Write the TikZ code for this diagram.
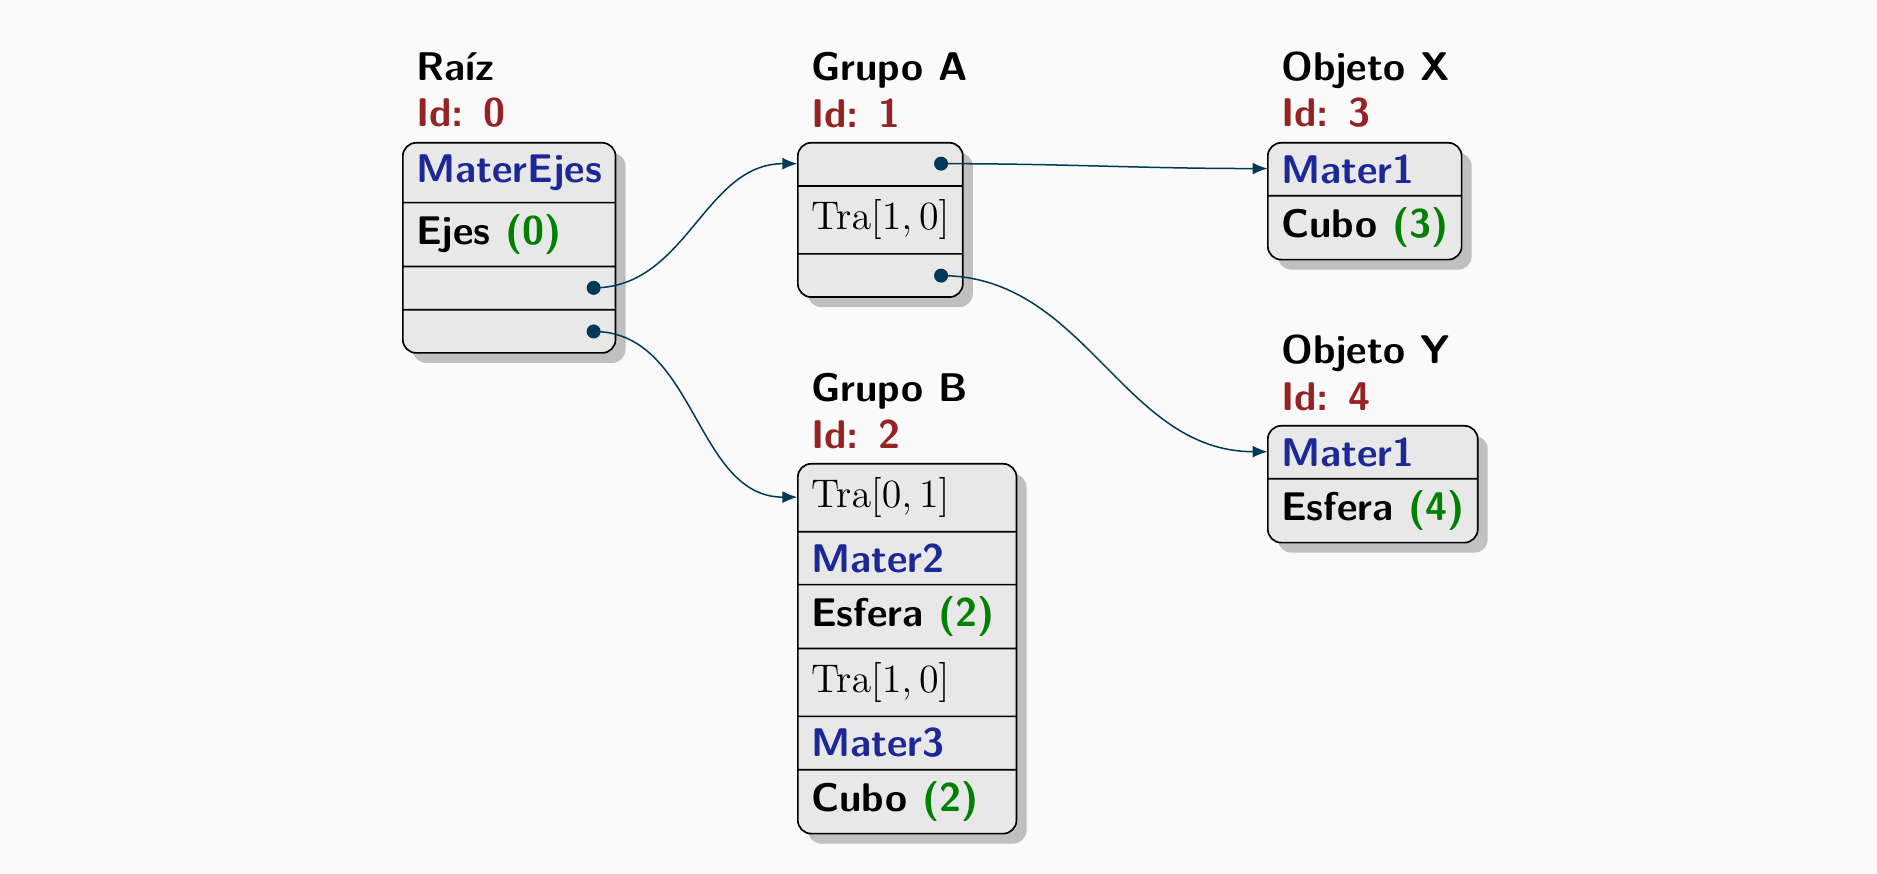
\documentclass[tikz,border=0pt]{standalone}
\usetikzlibrary{shapes.multipart,shadows,calc,arrows.meta}
\newcommand{\sfdoce}{\fontsize{12}{14}\sffamily\bfseries}
\newcommand{\tra}[1]{\rule[-3.6pt]{0pt}{13.2pt}$\mathrm{Tra}[#1]$}
\definecolor{fondo}{RGB}{250,250,250}
\definecolor{celda}{RGB}{232,232,232}
\definecolor{sombra}{RGB}{192,192,192}
\definecolor{azul}{RGB}{28,40,150}
\definecolor{rojo}{RGB}{150,35,35}
\definecolor{verde}{RGB}{0,128,0}
\definecolor{punto}{RGB}{0,58,87}
\tikzset{
  escena/.style={rectangle split, rectangle split parts=#1, rectangle split part align=left,
    rectangle split empty part height=5.8pt,
    draw=black, line width=0.5pt, rounded corners, fill=celda, anchor=north west,
    inner xsep=4pt, inner ysep=3.33pt, font=\sfdoce,
    drop shadow={shadow xshift=3pt, shadow yshift=-3pt, fill=sombra, opacity=1}},
  titulo/.style={anchor=south west, align=left, inner sep=4pt, font=\sfdoce},
  enlace/.style={-{Latex[length=4.5pt,width=3.6pt]}, draw=punto, line width=0.45pt}
}

\begin{document}
\begin{tikzpicture}[scale=1.0544]
    \fill[fondo] (0,0) rectangle (18.77,8.74);
    \useasboundingbox (0,0) rectangle (18.77,8.74);
    % nodos de la escena
    \node[escena=4] (raiz) at (4.02,7.32) {\textcolor{azul}{MaterEjes}\nodepart{two}Ejes \textcolor{verde}{(0)}\nodepart{three}\nodepart{four}};
    \node[escena=3] (grupoA) at (7.97,7.32) {\nodepart{two}\tra{1,0}\nodepart{three}};
    \node[escena=6, minimum width=65.6pt] (grupoB) at (7.97,4.11) {\tra{0,1}\nodepart{two}\textcolor{azul}{Mater2}\nodepart{three}Esfera \textcolor{verde}{(2)}\nodepart{four}\tra{1,0}\nodepart{five}\textcolor{azul}{Mater3}\nodepart{six}Cubo \textcolor{verde}{(2)}};
    \node[escena=2] (objX) at (12.67,7.32) {\textcolor{azul}{Mater1}\nodepart{two}Cubo \textcolor{verde}{(3)}};
    \node[escena=2] (objY) at (12.67,4.49) {\textcolor{azul}{Mater1}\nodepart{two}Esfera \textcolor{verde}{(4)}};
    % titulos
    \node[titulo] (raiz-t) at (raiz.north west) {Raíz\\\textcolor{rojo}{Id: 0}};
    \node[titulo] (grupoA-t) at (grupoA.north west) {Grupo A\\\textcolor{rojo}{Id: 1}};
    \node[titulo] (grupoB-t) at (grupoB.north west) {Grupo B\\\textcolor{rojo}{Id: 2}};
    \node[titulo] (objX-t) at (objX.north west) {Objeto X\\\textcolor{rojo}{Id: 3}};
    \node[titulo] (objY-t) at (objY.north west) {Objeto Y\\\textcolor{rojo}{Id: 4}};
    % puntos de salida y entrada
    \coordinate (raiz-c) at ($(raiz.two split east)!.5!(raiz.three split east)+(-0.23,0)$);
    \coordinate (raiz-d) at ($(raiz.three split east)!.5!(raiz.south east)+(-0.23,0)$);
    \coordinate (grupoA-a) at ($(grupoA.north east)!.5!(grupoA.text split east)+(-0.23,0)$);
    \coordinate (grupoA-c) at ($(grupoA.two split east)!.5!(grupoA.south east)+(-0.23,0)$);
    \coordinate (grupoA-in) at ($(grupoA.north west)!.5!(grupoA.text split west)$);
    \coordinate (grupoB-in) at ($(grupoB.north west)!.5!(grupoB.text split west)$);
    \coordinate (objX-in) at ($(objX.north west)!.5!(objX.text split west)$);
    \coordinate (objY-in) at ($(objY.north west)!.5!(objY.text split west)$);
    % enlaces
    \draw[enlace] (raiz-c) to[out=0,in=180] (grupoA-in);
    \draw[enlace] (raiz-d) to[out=0,in=180] (grupoB-in);
    \draw[enlace] (grupoA-a) to[out=0,in=180] (objX-in);
    \draw[enlace] (grupoA-c) to[out=0,in=180] (objY-in);
    \foreach \p in {raiz-c,raiz-d,grupoA-a,grupoA-c}
        \fill[punto] (\p) circle (0.07);
\end{tikzpicture}
\end{document}
